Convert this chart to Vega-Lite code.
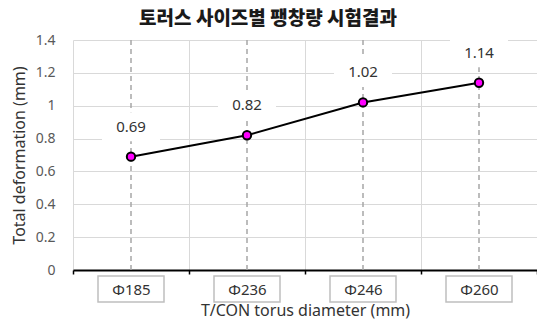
{
  "$schema": "https://vega.github.io/schema/vega-lite/v6.json",
  "width": 464,
  "height": 230,
  "autosize": {"type": "none"},
  "padding": {"left": 73, "top": 40, "right": 0, "bottom": 56},
  "background": "white",
  "title": {"text": "토러스 사이즈별 팽창량 시험결과", "font": "Noto Sans CJK KR", "fontSize": 19, "fontWeight": 900, "color": "#1a1a1a", "anchor": "middle", "dx": -37, "offset": 4},
  "config": {"view": {"stroke": null}},
  "data": {"values": [
    {"d": "Φ185", "v": 0.69},
    {"d": "Φ236", "v": 0.82},
    {"d": "Φ246", "v": 1.02},
    {"d": "Φ260", "v": 1.14}
  ]},
  "encoding": {
    "x": {"field": "d", "type": "ordinal", "sort": null,
      "scale": {"type": "band", "paddingInner": 0, "paddingOuter": 0},
      "axis": {"title": "T/CON torus diameter (mm)", "labelAngle": 0, "tickBand": "extent", "grid": true, "gridColor": "#d9d9d9", "gridWidth": 1,
        "domainColor": "#000000", "domainWidth": 2, "tickColor": "#000000", "tickSize": 4, "tickWidth": 1.5,
        "labelPadding": 8, "labelFont": "Noto Sans", "labelFontSize": 15, "labelColor": "#333333",
        "titleFont": "Noto Sans", "titleFontSize": 16, "titleFontWeight": "normal", "titleColor": "#333333", "titlePadding": 5}}
  },
  "layer": [
    {"mark": {"type": "rule", "color": "#a6a6a6", "strokeDash": [5, 4], "strokeWidth": 1.5}, "encoding": {}},
    {"mark": {"type": "point", "shape": "M-1,-0.5H1V0.5H-1Z", "filled": true, "fill": "white", "strokeWidth": 0, "opacity": 1, "size": 3364, "yOffset": -30},
     "encoding": {"y": {"field": "v", "type": "quantitative", "scale": {"domain": [0, 1.4]},
       "axis": {"title": "Total deformation (mm)", "values": [0, 0.2, 0.4, 0.6, 0.8, 1, 1.2, 1.4], "format": ".2~f", "labelOverlap": false, "domain": false, "ticks": false, "tickSize": 0, "labelPadding": 18, "gridColor": "#d9d9d9", "labelFont": "Noto Sans", "labelFontSize": 14, "labelColor": "#595959", "titleFont": "Noto Sans", "titleFontSize": 16, "titleFontWeight": "normal", "titleColor": "#333333", "titlePadding": 8}}}},
    {"mark": {"type": "line", "color": "#000000", "strokeWidth": 2},
     "encoding": {"y": {"field": "v", "type": "quantitative", "scale": {"domain": [0, 1.4]},
       "axis": {"title": "Total deformation (mm)", "values": [0, 0.2, 0.4, 0.6, 0.8, 1, 1.2, 1.4], "format": ".2~f", "labelOverlap": false, "domain": false, "ticks": false, "tickSize": 0, "labelPadding": 18, "gridColor": "#d9d9d9", "labelFont": "Noto Sans", "labelFontSize": 14, "labelColor": "#595959", "titleFont": "Noto Sans", "titleFontSize": 16, "titleFontWeight": "normal", "titleColor": "#333333", "titlePadding": 8}}}},
    {"mark": {"type": "point", "filled": true, "fill": "#ff00ff", "stroke": "#000000", "strokeWidth": 2, "opacity": 1, "size": 70},
     "encoding": {"y": {"field": "v", "type": "quantitative", "scale": {"domain": [0, 1.4]},
       "axis": {"title": "Total deformation (mm)", "values": [0, 0.2, 0.4, 0.6, 0.8, 1, 1.2, 1.4], "format": ".2~f", "labelOverlap": false, "domain": false, "ticks": false, "tickSize": 0, "labelPadding": 18, "gridColor": "#d9d9d9", "labelFont": "Noto Sans", "labelFontSize": 14, "labelColor": "#595959", "titleFont": "Noto Sans", "titleFontSize": 16, "titleFontWeight": "normal", "titleColor": "#333333", "titlePadding": 8}}}},
    {"mark": {"type": "text", "dy": -30, "font": "Noto Sans", "fontSize": 15, "color": "#333333"},
     "encoding": {"y": {"field": "v", "type": "quantitative", "scale": {"domain": [0, 1.4]},
       "axis": {"title": "Total deformation (mm)", "values": [0, 0.2, 0.4, 0.6, 0.8, 1, 1.2, 1.4], "format": ".2~f", "labelOverlap": false, "domain": false, "ticks": false, "tickSize": 0, "labelPadding": 18, "gridColor": "#d9d9d9", "labelFont": "Noto Sans", "labelFontSize": 14, "labelColor": "#595959", "titleFont": "Noto Sans", "titleFontSize": 16, "titleFontWeight": "normal", "titleColor": "#333333", "titlePadding": 8}},
       "text": {"field": "v", "type": "quantitative", "format": ".2f"}}},
    {"mark": {"type": "point", "shape": "M-1,-0.394H1V0.394H-1Z", "filled": false, "stroke": "#bfbfbf", "strokeWidth": 1.5, "opacity": 1, "size": 4356, "yOffset": 19, "clip": false},
     "encoding": {"y": {"datum": 0, "type": "quantitative", "scale": {"domain": [0, 1.4]},
       "axis": {"title": "Total deformation (mm)", "values": [0, 0.2, 0.4, 0.6, 0.8, 1, 1.2, 1.4], "format": ".2~f", "labelOverlap": false, "domain": false, "ticks": false, "tickSize": 0, "labelPadding": 18, "gridColor": "#d9d9d9", "labelFont": "Noto Sans", "labelFontSize": 14, "labelColor": "#595959", "titleFont": "Noto Sans", "titleFontSize": 16, "titleFontWeight": "normal", "titleColor": "#333333", "titlePadding": 8}}}}
  ]
}
